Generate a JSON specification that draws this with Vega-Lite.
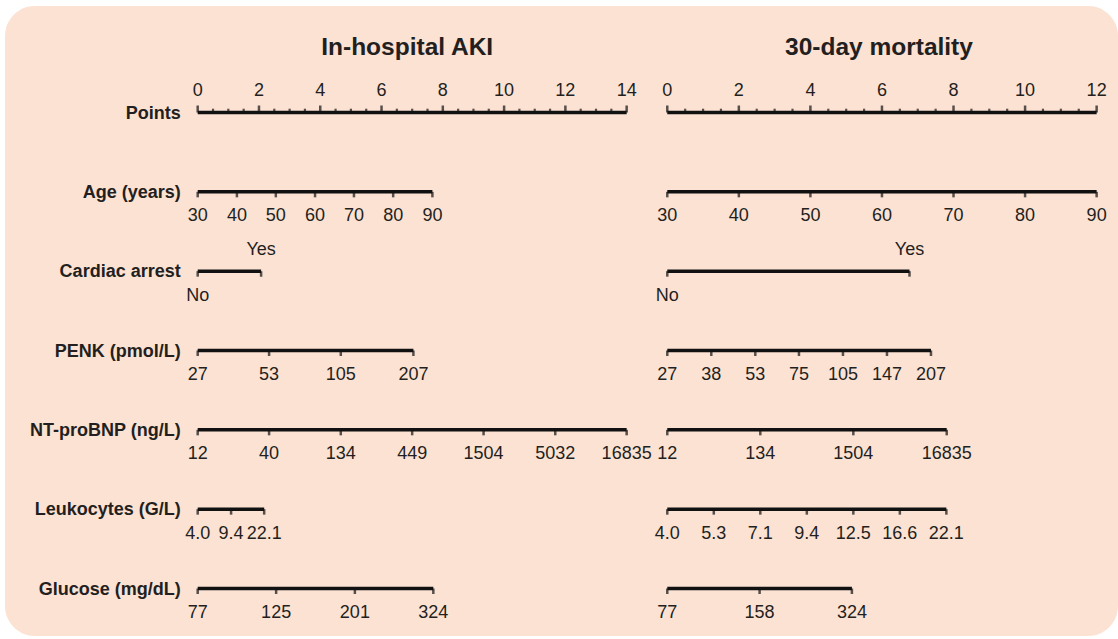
{
  "$schema": "https://vega.github.io/schema/vega-lite/v6.json",
  "width": 1118,
  "height": 639,
  "autosize": {"type": "fit", "contains": "padding"},
  "padding": {"left": 5, "top": 6, "right": 0, "bottom": 3},
  "background": "white",
  "config": {
    "view": {"fill": "#fce2d3", "stroke": null, "cornerRadius": 30},
    "text": {"font": "Liberation Sans", "fill": "#231f20", "fontSize": 18},
    "tick": {"color": "#111111"},
    "rule": {"color": "#111111"}
  },
  "data": {
    "values": [
      {"panel": "AKI", "var": "Points", "label": "0", "points": 0},
      {"panel": "AKI", "var": "Points", "label": "", "points": 0.5},
      {"panel": "AKI", "var": "Points", "label": "", "points": 1},
      {"panel": "AKI", "var": "Points", "label": "", "points": 1.5},
      {"panel": "AKI", "var": "Points", "label": "2", "points": 2},
      {"panel": "AKI", "var": "Points", "label": "", "points": 2.5},
      {"panel": "AKI", "var": "Points", "label": "", "points": 3},
      {"panel": "AKI", "var": "Points", "label": "", "points": 3.5},
      {"panel": "AKI", "var": "Points", "label": "4", "points": 4},
      {"panel": "AKI", "var": "Points", "label": "", "points": 4.5},
      {"panel": "AKI", "var": "Points", "label": "", "points": 5},
      {"panel": "AKI", "var": "Points", "label": "", "points": 5.5},
      {"panel": "AKI", "var": "Points", "label": "6", "points": 6},
      {"panel": "AKI", "var": "Points", "label": "", "points": 6.5},
      {"panel": "AKI", "var": "Points", "label": "", "points": 7},
      {"panel": "AKI", "var": "Points", "label": "", "points": 7.5},
      {"panel": "AKI", "var": "Points", "label": "8", "points": 8},
      {"panel": "AKI", "var": "Points", "label": "", "points": 8.5},
      {"panel": "AKI", "var": "Points", "label": "", "points": 9},
      {"panel": "AKI", "var": "Points", "label": "", "points": 9.5},
      {"panel": "AKI", "var": "Points", "label": "10", "points": 10},
      {"panel": "AKI", "var": "Points", "label": "", "points": 10.5},
      {"panel": "AKI", "var": "Points", "label": "", "points": 11},
      {"panel": "AKI", "var": "Points", "label": "", "points": 11.5},
      {"panel": "AKI", "var": "Points", "label": "12", "points": 12},
      {"panel": "AKI", "var": "Points", "label": "", "points": 12.5},
      {"panel": "AKI", "var": "Points", "label": "", "points": 13},
      {"panel": "AKI", "var": "Points", "label": "", "points": 13.5},
      {"panel": "AKI", "var": "Points", "label": "14", "points": 14},
      {"panel": "AKI", "var": "Age (years)", "label": "30", "points": 0},
      {"panel": "AKI", "var": "Age (years)", "label": "40", "points": 1.28},
      {"panel": "AKI", "var": "Age (years)", "label": "50", "points": 2.55},
      {"panel": "AKI", "var": "Age (years)", "label": "60", "points": 3.83},
      {"panel": "AKI", "var": "Age (years)", "label": "70", "points": 5.1},
      {"panel": "AKI", "var": "Age (years)", "label": "80", "points": 6.38},
      {"panel": "AKI", "var": "Age (years)", "label": "90", "points": 7.66},
      {"panel": "AKI", "var": "Cardiac arrest", "label": "No", "points": 0},
      {"panel": "AKI", "var": "Cardiac arrest", "label": "Yes", "points": 2.07},
      {"panel": "AKI", "var": "PENK (pmol/L)", "label": "27", "points": 0},
      {"panel": "AKI", "var": "PENK (pmol/L)", "label": "53", "points": 2.33},
      {"panel": "AKI", "var": "PENK (pmol/L)", "label": "105", "points": 4.67},
      {"panel": "AKI", "var": "PENK (pmol/L)", "label": "207", "points": 7.04},
      {"panel": "AKI", "var": "NT-proBNP (ng/L)", "label": "12", "points": 0},
      {"panel": "AKI", "var": "NT-proBNP (ng/L)", "label": "40", "points": 2.33},
      {"panel": "AKI", "var": "NT-proBNP (ng/L)", "label": "134", "points": 4.67},
      {"panel": "AKI", "var": "NT-proBNP (ng/L)", "label": "449", "points": 7},
      {"panel": "AKI", "var": "NT-proBNP (ng/L)", "label": "1504", "points": 9.33},
      {"panel": "AKI", "var": "NT-proBNP (ng/L)", "label": "5032", "points": 11.67},
      {"panel": "AKI", "var": "NT-proBNP (ng/L)", "label": "16835", "points": 14},
      {"panel": "AKI", "var": "Leukocytes (G/L)", "label": "4.0", "points": 0},
      {"panel": "AKI", "var": "Leukocytes (G/L)", "label": "9.4", "points": 1.09},
      {"panel": "AKI", "var": "Leukocytes (G/L)", "label": "22.1", "points": 2.17},
      {"panel": "AKI", "var": "Glucose (mg/dL)", "label": "77", "points": 0},
      {"panel": "AKI", "var": "Glucose (mg/dL)", "label": "125", "points": 2.56},
      {"panel": "AKI", "var": "Glucose (mg/dL)", "label": "201", "points": 5.13},
      {"panel": "AKI", "var": "Glucose (mg/dL)", "label": "324", "points": 7.69},
      {"panel": "Mortality", "var": "Points", "label": "0", "points": 0},
      {"panel": "Mortality", "var": "Points", "label": "", "points": 0.5},
      {"panel": "Mortality", "var": "Points", "label": "", "points": 1},
      {"panel": "Mortality", "var": "Points", "label": "", "points": 1.5},
      {"panel": "Mortality", "var": "Points", "label": "2", "points": 2},
      {"panel": "Mortality", "var": "Points", "label": "", "points": 2.5},
      {"panel": "Mortality", "var": "Points", "label": "", "points": 3},
      {"panel": "Mortality", "var": "Points", "label": "", "points": 3.5},
      {"panel": "Mortality", "var": "Points", "label": "4", "points": 4},
      {"panel": "Mortality", "var": "Points", "label": "", "points": 4.5},
      {"panel": "Mortality", "var": "Points", "label": "", "points": 5},
      {"panel": "Mortality", "var": "Points", "label": "", "points": 5.5},
      {"panel": "Mortality", "var": "Points", "label": "6", "points": 6},
      {"panel": "Mortality", "var": "Points", "label": "", "points": 6.5},
      {"panel": "Mortality", "var": "Points", "label": "", "points": 7},
      {"panel": "Mortality", "var": "Points", "label": "", "points": 7.5},
      {"panel": "Mortality", "var": "Points", "label": "8", "points": 8},
      {"panel": "Mortality", "var": "Points", "label": "", "points": 8.5},
      {"panel": "Mortality", "var": "Points", "label": "", "points": 9},
      {"panel": "Mortality", "var": "Points", "label": "", "points": 9.5},
      {"panel": "Mortality", "var": "Points", "label": "10", "points": 10},
      {"panel": "Mortality", "var": "Points", "label": "", "points": 10.5},
      {"panel": "Mortality", "var": "Points", "label": "", "points": 11},
      {"panel": "Mortality", "var": "Points", "label": "", "points": 11.5},
      {"panel": "Mortality", "var": "Points", "label": "12", "points": 12},
      {"panel": "Mortality", "var": "Age (years)", "label": "30", "points": 0},
      {"panel": "Mortality", "var": "Age (years)", "label": "40", "points": 2},
      {"panel": "Mortality", "var": "Age (years)", "label": "50", "points": 4},
      {"panel": "Mortality", "var": "Age (years)", "label": "60", "points": 6},
      {"panel": "Mortality", "var": "Age (years)", "label": "70", "points": 8},
      {"panel": "Mortality", "var": "Age (years)", "label": "80", "points": 10},
      {"panel": "Mortality", "var": "Age (years)", "label": "90", "points": 12},
      {"panel": "Mortality", "var": "Cardiac arrest", "label": "No", "points": 0},
      {"panel": "Mortality", "var": "Cardiac arrest", "label": "Yes", "points": 6.77},
      {"panel": "Mortality", "var": "PENK (pmol/L)", "label": "27", "points": 0},
      {"panel": "Mortality", "var": "PENK (pmol/L)", "label": "38", "points": 1.23},
      {"panel": "Mortality", "var": "PENK (pmol/L)", "label": "53", "points": 2.46},
      {"panel": "Mortality", "var": "PENK (pmol/L)", "label": "75", "points": 3.68},
      {"panel": "Mortality", "var": "PENK (pmol/L)", "label": "105", "points": 4.91},
      {"panel": "Mortality", "var": "PENK (pmol/L)", "label": "147", "points": 6.14},
      {"panel": "Mortality", "var": "PENK (pmol/L)", "label": "207", "points": 7.37},
      {"panel": "Mortality", "var": "NT-proBNP (ng/L)", "label": "12", "points": 0},
      {"panel": "Mortality", "var": "NT-proBNP (ng/L)", "label": "134", "points": 2.6},
      {"panel": "Mortality", "var": "NT-proBNP (ng/L)", "label": "1504", "points": 5.2},
      {"panel": "Mortality", "var": "NT-proBNP (ng/L)", "label": "16835", "points": 7.81},
      {"panel": "Mortality", "var": "Leukocytes (G/L)", "label": "4.0", "points": 0},
      {"panel": "Mortality", "var": "Leukocytes (G/L)", "label": "5.3", "points": 1.3},
      {"panel": "Mortality", "var": "Leukocytes (G/L)", "label": "7.1", "points": 2.6},
      {"panel": "Mortality", "var": "Leukocytes (G/L)", "label": "9.4", "points": 3.9},
      {"panel": "Mortality", "var": "Leukocytes (G/L)", "label": "12.5", "points": 5.2},
      {"panel": "Mortality", "var": "Leukocytes (G/L)", "label": "16.6", "points": 6.5},
      {"panel": "Mortality", "var": "Leukocytes (G/L)", "label": "22.1", "points": 7.8},
      {"panel": "Mortality", "var": "Glucose (mg/dL)", "label": "77", "points": 0},
      {"panel": "Mortality", "var": "Glucose (mg/dL)", "label": "158", "points": 2.58},
      {"panel": "Mortality", "var": "Glucose (mg/dL)", "label": "324", "points": 5.16}
    ]
  },
  "layer": [
    {
      "transform": [{"filter": "datum.panel === 'AKI'"}],
      "encoding": {
        "y": {"field": "var", "type": "nominal", "axis": null,
              "scale": {"type": "point", "padding": 0, "domain": ["Points", "Age (years)", "Cardiac arrest", "PENK (pmol/L)", "NT-proBNP (ng/L)", "Leukocytes (G/L)", "Glucose (mg/dL)"], "range": [106.5, 582.5]}}
      },
      "layer": [
        {
          "mark": {"type": "rule", "strokeWidth": 3.5},
          "encoding": {
            "x": {"aggregate": "min", "field": "points", "type": "quantitative", "axis": null, "scale": {"domain": [-6.289, 30.036], "nice": false, "zero": false}},
            "x2": {"aggregate": "max", "field": "points"}
          }
        },
        {
          "transform": [{"filter": "datum.var === 'Points' && datum.label !== ''"}],
          "mark": {"type": "tick", "size": 7, "thickness": 2.5, "yOffset": -3.5},
          "encoding": {"x": {"field": "points", "type": "quantitative"}}
        },
        {
          "transform": [{"filter": "datum.var === 'Points' && datum.label === ''"}],
          "mark": {"type": "tick", "size": 3.8, "thickness": 2.2, "yOffset": -1.9},
          "encoding": {"x": {"field": "points", "type": "quantitative"}}
        },
        {
          "transform": [{"filter": "datum.var !== 'Points'"}],
          "mark": {"type": "tick", "size": 5.5, "thickness": 2.5, "yOffset": 2.75},
          "encoding": {"x": {"field": "points", "type": "quantitative"}}
        },
        {
          "transform": [{"filter": "(datum.var === 'Points' && datum.label !== '') || datum.label === 'Yes'"}],
          "mark": {"type": "text", "baseline": "middle", "align": "center", "dy": -21.5},
          "encoding": {"x": {"field": "points", "type": "quantitative"}, "text": {"field": "label"}}
        },
        {
          "transform": [{"filter": "datum.var !== 'Points' && datum.label !== 'Yes'"}],
          "mark": {"type": "text", "baseline": "middle", "align": "center", "dy": 24.5},
          "encoding": {"x": {"field": "points", "type": "quantitative"}, "text": {"field": "label"}}
        },
        {
          "transform": [{"filter": "datum.points === 0"}],
          "mark": {"type": "text", "baseline": "middle", "align": "right", "dx": -17, "dy": 1, "fontWeight": "bold"},
          "encoding": {"x": {"field": "points", "type": "quantitative"}, "text": {"field": "var"}}
        },
        {
          "data": {"values": [{"panel": "AKI", "title": "In-hospital AKI"}]},
          "mark": {"type": "text", "baseline": "alphabetic", "align": "center", "dy": -58, "dx": -5, "fontWeight": "bold", "fontSize": 24.5},
          "encoding": {"x": {"datum": 7, "type": "quantitative"}, "y": {"datum": "Points", "type": "nominal"}, "text": {"field": "title"}}
        }
      ]
    },
    {
      "transform": [{"filter": "datum.panel === 'Mortality'"}],
      "encoding": {
        "y": {"field": "var", "type": "nominal", "axis": null,
              "scale": {"type": "point", "padding": 0, "domain": ["Points", "Age (years)", "Cardiac arrest", "PENK (pmol/L)", "NT-proBNP (ng/L)", "Leukocytes (G/L)", "Glucose (mg/dL)"], "range": [106.5, 582.5]}}
      },
      "layer": [
        {
          "mark": {"type": "rule", "strokeWidth": 3.5},
          "encoding": {
            "x": {"aggregate": "min", "field": "points", "type": "quantitative", "axis": null, "scale": {"domain": [-18.51, 12.597], "nice": false, "zero": false}},
            "x2": {"aggregate": "max", "field": "points"}
          }
        },
        {
          "transform": [{"filter": "datum.var === 'Points' && datum.label !== ''"}],
          "mark": {"type": "tick", "size": 7, "thickness": 2.5, "yOffset": -3.5},
          "encoding": {"x": {"field": "points", "type": "quantitative"}}
        },
        {
          "transform": [{"filter": "datum.var === 'Points' && datum.label === ''"}],
          "mark": {"type": "tick", "size": 3.8, "thickness": 2.2, "yOffset": -1.9},
          "encoding": {"x": {"field": "points", "type": "quantitative"}}
        },
        {
          "transform": [{"filter": "datum.var !== 'Points'"}],
          "mark": {"type": "tick", "size": 5.5, "thickness": 2.5, "yOffset": 2.75},
          "encoding": {"x": {"field": "points", "type": "quantitative"}}
        },
        {
          "transform": [{"filter": "(datum.var === 'Points' && datum.label !== '') || datum.label === 'Yes'"}],
          "mark": {"type": "text", "baseline": "middle", "align": "center", "dy": -21.5},
          "encoding": {"x": {"field": "points", "type": "quantitative"}, "text": {"field": "label"}}
        },
        {
          "transform": [{"filter": "datum.var !== 'Points' && datum.label !== 'Yes'"}],
          "mark": {"type": "text", "baseline": "middle", "align": "center", "dy": 24.5},
          "encoding": {"x": {"field": "points", "type": "quantitative"}, "text": {"field": "label"}}
        },
        {
          "data": {"values": [{"panel": "Mortality", "title": "30-day mortality"}]},
          "mark": {"type": "text", "baseline": "alphabetic", "align": "center", "dy": -58, "dx": -3, "fontWeight": "bold", "fontSize": 24.5},
          "encoding": {"x": {"datum": 6, "type": "quantitative"}, "y": {"datum": "Points", "type": "nominal"}, "text": {"field": "title"}}
        }
      ]
    }
  ],
  "resolve": {"scale": {"x": "independent"}}
}
